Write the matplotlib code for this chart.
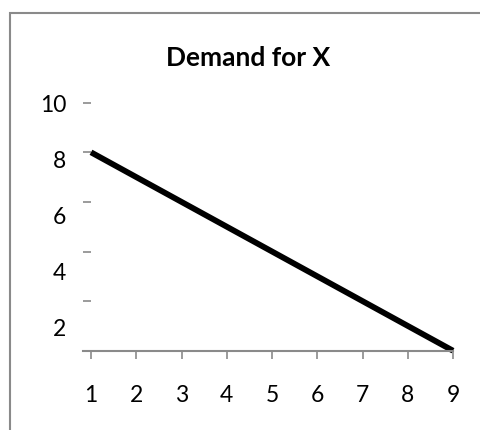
import matplotlib

matplotlib.use("Agg")
import matplotlib.pyplot as plt
from matplotlib.patches import Rectangle

# demand schedule: quantity of X at each price step
price = [1, 2, 3, 4, 5, 6, 7, 8, 9]
quantity = [8, 7, 6, 5, 4, 3, 2, 1, 0]

y_marks = [2, 4, 6, 8, 10]
y_label_pos = [0.95, 3.2, 5.45, 7.7, 9.95]
y_labels = ["2", "4", "6", "8", "10"]

GRAY = "#8a8a8a"
FONT = "Lato"

fig = plt.figure(figsize=(4.8, 4.3), dpi=100)
ax = fig.add_axes([83 / 480, 1 - 350.7 / 430, 370 / 480, 248 / 430])

ax.plot(price, quantity, color="black", linewidth=4.2, solid_capstyle="butt", clip_on=False)

ax.set_xlim(0.823, 9)
ax.set_ylim(0, 10)

for side in ("top", "right", "left"):
    ax.spines[side].set_visible(False)
ax.spines["bottom"].set_color(GRAY)
ax.spines["bottom"].set_linewidth(1.5)

ax.set_xticks(price)
ax.set_xticklabels([str(p) for p in price], fontfamily=FONT, fontsize=16.5)
ax.tick_params(axis="x", direction="out", length=6, width=1.2, color=GRAY, pad=18.5)

# tick marks sit on the even values, labels are spread on their own spacing
ax.set_yticks(y_marks, minor=True)
ax.set_yticks(y_label_pos)
ax.set_yticklabels(y_labels, fontfamily=FONT, fontsize=16.5)
ax.tick_params(axis="y", which="major", length=0, pad=12)
ax.tick_params(axis="y", which="minor", direction="in", length=6, width=1.2, color=GRAY)

fig.text(248 / 480, 1 - 58 / 430, "Demand for X", ha="center", va="center",
         fontfamily=FONT, fontweight="bold", fontsize=19)

# chart-area frame, running off the right and bottom edges
fig.patches.append(Rectangle((9.5 / 480, -0.1), 1.2, 1 - 12.5 / 430 + 0.1,
                             transform=fig.transFigure, fill=False,
                             edgecolor=GRAY, linewidth=1.5))

fig.savefig("out.png", dpi=100)
